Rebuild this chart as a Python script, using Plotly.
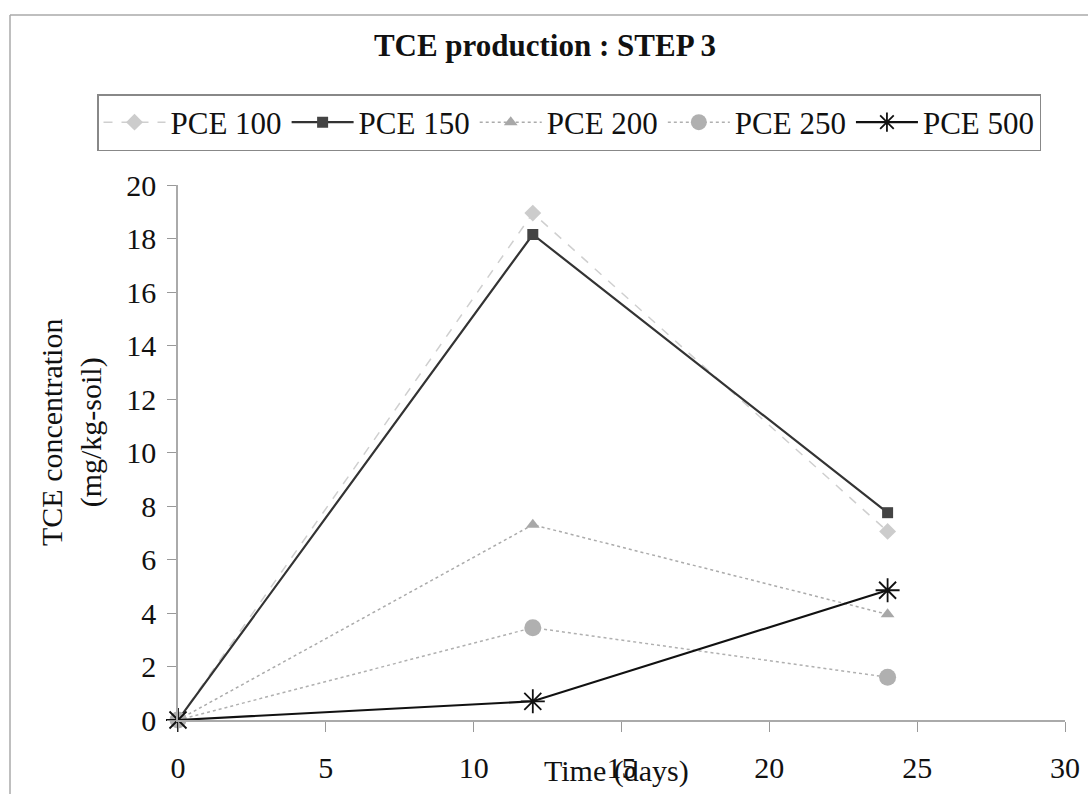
import plotly.graph_objects as go

days = [0, 12, 24]
series_names = ["PCE 100", "PCE 150", "PCE 200", "PCE 250", "PCE 500"]
pce100 = [0, 18.95, 7.05]
pce150 = [0, 18.15, 7.75]
pce200 = [0, 7.3, 3.95]
pce250 = [0, 3.45, 1.6]
pce500 = [0, 0.7, 4.85]
x_ticks = [0, 5, 10, 15, 20, 25, 30]
y_ticks = [0, 2, 4, 6, 8, 10, 12, 14, 16, 18, 20]

FONT = "Liberation Serif"

W, H = 1090, 794
L, R, T, B = 178, 25, 185, 74
pw = W - L - R
ph = H - T - B

def px_x(p):
    return (p - L) / pw

def px_y(p):
    return (H - B - p) / ph

styles = [
    dict(line=dict(color="#cfcfcf", width=1.5, dash="dash"),
         marker=dict(symbol="diamond", size=13, color="#cccccc")),
    dict(line=dict(color="#333333", width=2.2),
         marker=dict(symbol="square", size=11, color="#444444")),
    dict(line=dict(color="#ababab", width=1.5, dash="dot"),
         marker=dict(symbol="triangle-up", size=12, color="#a8a8a8")),
    dict(line=dict(color="#b0b0b0", width=1.5, dash="dot"),
         marker=dict(symbol="circle", size=17, color="#b0b0b0")),
    dict(line=dict(color="#111111", width=2.2),
         marker=dict(symbol="asterisk-open", size=20, color="#111111",
                     line=dict(width=1.8, color="#111111"))),
]

fig = go.Figure()
for name, vals, st in zip(series_names, [pce100, pce150, pce200, pce250, pce500], styles):
    fig.add_trace(go.Scatter(x=days, y=vals, name=name, mode="lines+markers",
                             line=st["line"], marker=st["marker"], cliponaxis=False))

fig.update_layout(
    template="none",
    width=W, height=H,
    margin=dict(l=L, r=R, t=T, b=B),
    paper_bgcolor="white", plot_bgcolor="white",
    font=dict(family=FONT, size=30, color="#111111"),
    title=dict(text="<b>TCE production : STEP 3</b>", x=0.5, xref="container",
               y=1 - 45 / H, yref="container", yanchor="middle", xanchor="center",
               font=dict(family=FONT, size=31, color="#111111")),
    showlegend=True,
    legend=dict(orientation="h", x=px_x(97), y=px_y(94), xanchor="left", yanchor="top",
                bordercolor="#888888", borderwidth=1.5, bgcolor="white",
                font=dict(family=FONT, size=31, color="#111111"),
                itemwidth=62, tracegroupgap=0),
    xaxis=dict(range=[0, 30], tickvals=x_ticks, ticks="outside", ticklen=10,
               tickcolor="#999999", showline=True, linecolor="#aaaaaa", linewidth=1.5,
               showgrid=False, zeroline=False, ticklabelstandoff=10,
               tickfont=dict(family=FONT, size=30, color="#111111")),
    yaxis=dict(range=[0, 20], tickvals=y_ticks, ticks="outside", ticklen=9,
               tickcolor="#999999", showline=True, linecolor="#aaaaaa", linewidth=1.5,
               showgrid=False, zeroline=False, ticklabelstandoff=5,
               tickfont=dict(family=FONT, size=30, color="#111111")),
    annotations=[
        dict(text="TCE concentration<br>(mg/kg-soil)", textangle=-90,
             x=px_x(71), y=px_y(433), xref="paper", yref="paper",
             xanchor="center", yanchor="middle", showarrow=False,
             font=dict(family=FONT, size=30, color="#111111")),
        dict(text="Time (days)", x=px_x(616), y=px_y(771), xref="paper", yref="paper",
             xanchor="center", yanchor="middle", showarrow=False,
             font=dict(family=FONT, size=30, color="#111111")),
    ],
    shapes=[
        dict(type="line", xref="paper", yref="paper", x0=px_x(10), x1=px_x(1088),
             y0=px_y(15), y1=px_y(15), line=dict(color="#aaaaaa", width=1.5)),
        dict(type="line", xref="paper", yref="paper", x0=px_x(10), x1=px_x(10),
             y0=px_y(15), y1=px_y(794), line=dict(color="#aaaaaa", width=1.5)),
    ],
)

fig.write_html("out.html")
